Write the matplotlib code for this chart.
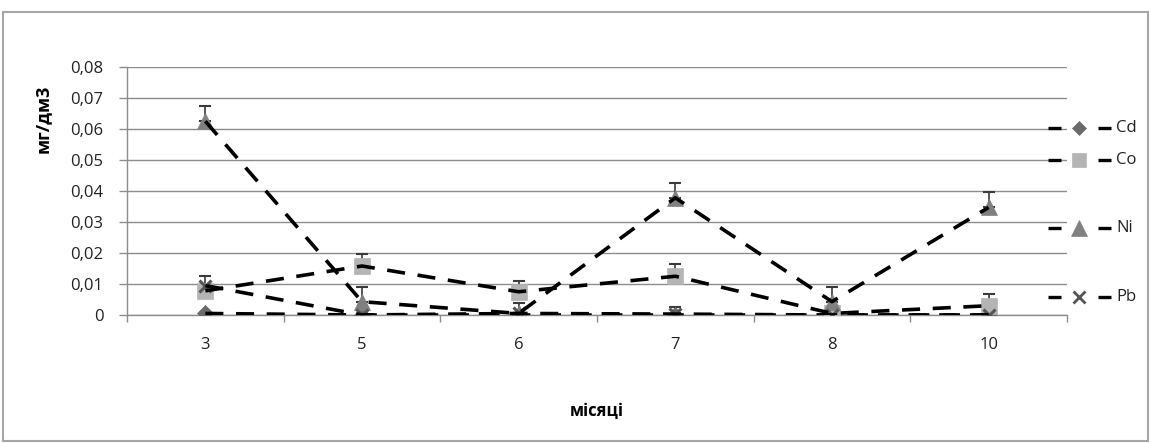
import numpy as np
import matplotlib.pyplot as plt
from matplotlib.lines import Line2D
from matplotlib.patches import Rectangle
from matplotlib.ticker import FuncFormatter, FixedLocator, FixedFormatter, NullFormatter

plt.rcParams['font.family'] = ['Open Sans', 'DejaVu Sans']

# месяці відбору проб
months = ['3', '5', '6', '7', '8', '10']

# концентрації металів, мг/дм3
cd = [0.0005, 0.0, 0.0, 0.0, 0.0, 0.0]
co = [0.0078, 0.0158, 0.0075, 0.0125, 0.0005, 0.003]
ni = [0.0625, 0.0043, 0.0005, 0.0378, 0.0043, 0.0347]
pb = [0.0095, 0.0, 0.0005, 0.0003, 0.0, 0.0]

# похибки (вгору)
cd_err = [0.0, 0.0, 0.0, 0.0, 0.0, 0.0]
co_err = [0.0, 0.004, 0.0035, 0.004, 0.0, 0.0038]
ni_err = [0.005, 0.0047, 0.0, 0.0047, 0.0047, 0.005]
pb_err = [0.003, 0.0, 0.0035, 0.0022, 0.0, 0.0]

names = ['Cd', 'Co', 'Ni', 'Pb']
markers = ['D', 's', '^', 'x']
colors = ['#6b6b6b', '#b4b4b4', '#808080', '#555555']
sizes = [8, 11, 12, 9]
legend_y = [128, 160, 228, 297]

W, H = 1150, 443
fig = plt.figure(figsize=(W / 100, H / 100), dpi=100)
ax = fig.add_axes([127 / W, 1 - 315 / H, 940 / W, 248 / H])

x = np.arange(len(months))
series = [(cd, cd_err), (co, co_err), (ni, ni_err), (pb, pb_err)]

for i, (vals, err) in enumerate(series):
    vals = np.array(vals)
    err = np.array(err)
    ax.errorbar(x, vals, yerr=[np.zeros_like(err), err], fmt='none',
                ecolor='#3a3a3a', elinewidth=1.2, capsize=4, capthick=1.5, zorder=3)
    ax.plot(x, vals, linestyle='none', marker=markers[i], color=colors[i],
            markersize=sizes[i], markeredgewidth=2.2 if markers[i] == 'x' else 0.5,
            markeredgecolor=colors[i], zorder=4)
    ax.plot(x, vals, color='black', lw=2.6, linestyle=(0, (5, 3.5)),
            dash_capstyle='butt', zorder=5)

ax.set_xlim(-0.5, len(months) - 0.5)
ax.set_ylim(0, 0.08)
ax.set_yticks(np.arange(0, 0.081, 0.01))
ax.yaxis.set_major_formatter(FuncFormatter(
    lambda v, p: '0' if abs(v) < 1e-9 else f'{v:.2f}'.replace('.', ',')))

# поділки між категоріями — основні, підписи місяців — допоміжні
ax.xaxis.set_major_locator(FixedLocator(np.arange(-0.5, len(months), 1.0)))
ax.xaxis.set_major_formatter(NullFormatter())
ax.xaxis.set_minor_locator(FixedLocator(x))
ax.xaxis.set_minor_formatter(FixedFormatter(months))

ax.grid(axis='y', color='#8c8c8c', lw=1)
ax.set_axisbelow(True)
for s in ['top', 'right']:
    ax.spines[s].set_visible(False)
for s in ['left', 'bottom']:
    ax.spines[s].set_color('#8c8c8c')
    ax.spines[s].set_linewidth(1)

ax.tick_params(axis='x', which='minor', length=0, width=0, pad=16,
               labelsize=12, labelcolor='#222222')
ax.tick_params(axis='x', which='major', length=5, width=1, color='#8c8c8c',
               direction='out')
ax.tick_params(axis='y', length=6, width=1, color='#8c8c8c', pad=11,
               labelsize=12, labelcolor='#222222')

ax.set_ylabel('мг/дм3', fontsize=13, fontweight='bold')
ax.yaxis.set_label_coords(-0.08, 0.79)
ax.set_xlabel('місяці', fontsize=12, fontweight='bold')
ax.xaxis.set_label_coords(0.5, -0.35)


# легенда справа
def fx(px):
    return px / W


def fy(py):
    return 1 - py / H


for i, name in enumerate(names):
    yy = fy(legend_y[i])
    for x0, x1 in [(1048, 1061), (1098, 1111)]:
        fig.add_artist(Line2D([fx(x0), fx(x1)], [yy, yy], color='black', lw=2.4,
                              solid_capstyle='butt', transform=fig.transFigure))
    fig.add_artist(Line2D([fx(1079)], [yy], marker=markers[i], color=colors[i],
                          markersize=sizes[i] - 1, linestyle='none',
                          markeredgewidth=2 if markers[i] == 'x' else 0.5,
                          markeredgecolor=colors[i], transform=fig.transFigure))
    fig.text(fx(1116), yy, name, fontsize=12, va='center', ha='left', color='#222222')

# рамка області діаграми
fig.add_artist(Rectangle((fx(3), fy(441)), fx(1145), fy(12) - fy(441),
                         fill=False, edgecolor='#a6a6a6', lw=1.5,
                         transform=fig.transFigure))

fig.savefig('out.png', dpi=100, facecolor='white')
